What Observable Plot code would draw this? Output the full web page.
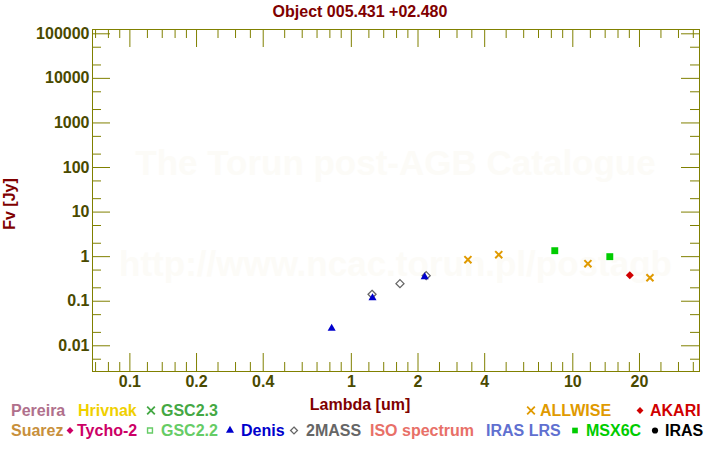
<!DOCTYPE html>
<html><head><meta charset="utf-8">
<script src="https://cdn.jsdelivr.net/npm/d3@7"></script>
<script src="https://cdn.jsdelivr.net/npm/@observablehq/plot@0.6"></script>
<style>
body{margin:0;background:#fff;}
#chart{width:720px;height:450px;}
</style>
</head><body><div id="chart"></div>
<script>
// ---- texts ----
const title = "Object 005.431 +02.480";
const xLabel = "Lambda [um]";
const yLabel = "Fv [Jy]";
const watermarks = ["The Torun post-AGB Catalogue", "http://www.ncac.torun.pl/postagb"];

// ---- ticks ----
const xTicks = [0.1, 0.2, 0.4, 1, 2, 4, 10, 20];
const xMinorTicks = [0.07, 0.08, 0.09, 0.12, 0.14, 0.16, 0.18, 0.25, 0.3, 0.35, 0.5, 0.6, 0.7, 0.8, 0.9,
  1.2, 1.4, 1.6, 1.8, 2.5, 3, 3.5, 5, 6, 7, 8, 9, 12, 14, 16, 18, 25, 30, 35];
const yTicks = [0.01, 0.1, 1, 10, 100, 1000, 10000, 100000];
const yMinorTicks = [0.005, 0.02, 0.05, 0.2, 0.5, 2, 5, 20, 50, 200, 500, 2000, 5000, 20000, 50000];
const xDomain = [0.0678, 37.33];
const yDomain = [0.00265, 124900];

// ---- photometry ----
const denisLambda = [0.815, 1.246, 2.144];
const denisFlux = [0.0246, 0.119, 0.352];
const twomassLambda = [1.240, 1.658, 2.178];
const twomassFlux = [0.143, 0.248, 0.375];
const allwiseLambda = [3.36, 4.63, 11.7, 22.3];
const allwiseFlux = [0.855, 1.107, 0.695, 0.337];
const msxLambda = [8.29, 14.69];
const msxFlux = [1.361, 1.0];
const akariLambda = [18.09];
const akariFlux = [0.381];

// ---- legend ----
const legendNames = ["Pereira", "Hrivnak", "GSC2.3", "ALLWISE", "AKARI",
  "Suarez", "Tycho-2", "GSC2.2", "Denis", "2MASS", "ISO spectrum", "IRAS LRS", "MSX6C", "IRAS"];
const legendColors = ["#b0708c", "#f0d000", "#44a844", "#e09a00", "#d00000",
  "#c8903c", "#cc0066", "#66cc66", "#0000cc", "#666666", "#e87068", "#6070d0", "#00cc00", "#000000"];
const legendSymbols = [null, null, "times", "times", "diamond",
  null, "diamond", "squareOpen", "triangle", "diamondOpen", null, null, "square", "circle"];

const rows = (xs, ys) => xs.map((x, i) => ({lambda: x, flux: ys[i]}));
const denis = rows(denisLambda, denisFlux);
const twomass = rows(twomassLambda, twomassFlux);
const allwise = rows(allwiseLambda, allwiseFlux);
const msx = rows(msxLambda, msxFlux);
const akari = rows(akariLambda, akariFlux);

const W = 720, H = 450, mL = 92, mR = 21, mT = 29, mB = 79;
const fw = W - mL - mR, fh = H - mT - mB;
const axisCol = "#808000";
const font = "'Liberation Sans', Arial, Helvetica, sans-serif";

const svg = Plot.plot({
  width: W, height: H,
  marginLeft: mL, marginRight: mR, marginTop: mT, marginBottom: mB,
  style: {fontFamily: font, background: "#fff", overflow: "visible"},
  x: {type: "log", domain: xDomain},
  y: {type: "log", domain: yDomain},
  marks: [
    // inward ticks on all four sides
    Plot.ruleX(xTicks, {x: d => d, stroke: axisCol, insetTop: fh - 18}),
    Plot.ruleX(xTicks, {x: d => d, stroke: axisCol, insetBottom: fh - 18}),
    Plot.ruleX(xMinorTicks, {x: d => d, stroke: axisCol, insetTop: fh - 9}),
    Plot.ruleX(xMinorTicks, {x: d => d, stroke: axisCol, insetBottom: fh - 9}),
    Plot.ruleY(yTicks, {y: d => d, stroke: axisCol, insetRight: fw - 18}),
    Plot.ruleY(yTicks, {y: d => d, stroke: axisCol, insetLeft: fw - 18}),
    Plot.ruleY(yMinorTicks, {y: d => d, stroke: axisCol, insetRight: fw - 9}),
    Plot.ruleY(yMinorTicks, {y: d => d, stroke: axisCol, insetLeft: fw - 9}),
    Plot.frame({stroke: axisCol}),
    Plot.axisX({ticks: xTicks, tickSize: 0, tickPadding: 4, tickFormat: d => String(d), label: null,
      color: "#4a4a00", fontSize: 16, fontWeight: "bold"}),
    Plot.axisY({ticks: yTicks, tickSize: 0, tickPadding: 3, tickFormat: d => String(d), label: null,
      color: "#4a4a00", fontSize: 16, fontWeight: "bold"}),
    // data
    Plot.dot(twomass, {x: "lambda", y: "flux", symbol: "diamond2", stroke: "#666666", fill: "none", strokeWidth: 1.3, r: 3.6}),
    Plot.dot(denis, {x: "lambda", y: "flux", symbol: "triangle", fill: "#0000cc", stroke: "none", r: 3}),
    Plot.dot(allwise, {x: "lambda", y: "flux", symbol: "times", stroke: "#e09a00", strokeWidth: 2, r: 3.3}),
    Plot.dot(msx, {x: "lambda", y: "flux", symbol: "square", fill: "#00cc00", stroke: "none", r: 3.9}),
    Plot.dot(akari, {x: "lambda", y: "flux", symbol: "diamond2", fill: "#d00000", stroke: "none", r: 3.6})
  ]
});

const s = d3.select(svg);
// watermark behind the marks
const wm = s.insert("g", "g").attr("font-family", font).attr("font-weight", "bold")
  .attr("font-size", 35).attr("fill", "#fcfbf7").attr("text-anchor", "middle");
const cx = mL + fw / 2;
wm.append("text").attr("x", cx).attr("y", 175).text(watermarks[0]);
wm.append("text").attr("x", cx).attr("y", 276).text(watermarks[1]);

const g = s.append("g").attr("font-family", font).attr("font-weight", "bold").attr("font-size", 16)
  .attr("text-anchor", "start");
g.append("text").attr("x", W / 2).attr("y", 17).attr("text-anchor", "middle").attr("fill", "#800000").text(title);
g.append("text").attr("x", W / 2).attr("y", 410).attr("text-anchor", "middle").attr("fill", "#800000").text(xLabel);
g.append("text").attr("transform", "translate(15,204) rotate(-90)").attr("text-anchor", "middle")
  .attr("fill", "#800000").text(yLabel);

// legend layout: [textX, markerX, baselineY]
const legendLayout = [
  [11, 0, 416], [78, 0, 416], [161, 151, 416], [540, 531, 416], [650, 640, 416],
  [11, 0, 436], [77, 70, 436], [161, 150, 436], [241, 230, 436], [306, 294, 436],
  [370, 0, 436], [486, 0, 436], [586, 575, 436], [665, 655, 436]
];
const symDefs = {
  times: {type: d3.symbolTimes, size: 40, stroke: true, sw: 1.8},
  diamond: {type: d3.symbolDiamond2, size: 30, fill: true},
  squareOpen: {type: d3.symbolSquare, size: 24, stroke: true, sw: 1.4},
  triangle: {type: d3.symbolTriangle, size: 28, fill: true},
  diamondOpen: {type: d3.symbolDiamond2, size: 30, stroke: true, sw: 1.3},
  square: {type: d3.symbolSquare, size: 32, fill: true},
  circle: {type: d3.symbolCircle, size: 30, fill: true}
};
legendNames.forEach((name, i) => {
  const [tx, mx, by] = legendLayout[i];
  const col = legendColors[i];
  g.append("text").attr("x", tx).attr("y", by).attr("text-anchor", "start").attr("fill", col).text(name);
  const sym = legendSymbols[i];
  if (sym) {
    const d = symDefs[sym];
    g.append("path")
      .attr("d", d3.symbol().type(d.type).size(d.size)())
      .attr("transform", `translate(${mx},${by - 5.5})`)
      .attr("fill", d.fill ? col : "none")
      .attr("stroke", d.stroke ? col : "none")
      .attr("stroke-width", d.sw || 0);
  }
});

document.getElementById("chart").appendChild(svg);
</script>
</body></html>
